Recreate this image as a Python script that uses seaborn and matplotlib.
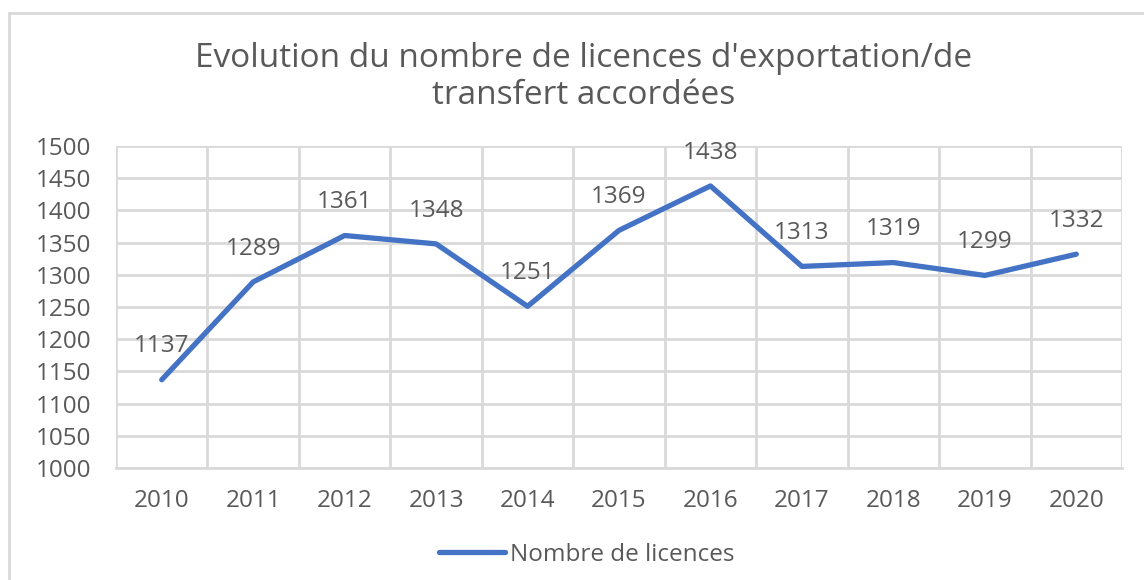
import numpy as np
import pandas as pd
import matplotlib
matplotlib.use('Agg')
import matplotlib.pyplot as plt
from matplotlib.lines import Line2D
import seaborn as sns

# Data
years = ['2010', '2011', '2012', '2013', '2014', '2015', '2016', '2017', '2018', '2019', '2020']
licences = [1137, 1289, 1361, 1348, 1251, 1369, 1438, 1313, 1319, 1299, 1332]
series_name = 'Nombre de licences'
title = "Evolution du nombre de licences d'exportation/de\ntransfert accordées"

df = pd.DataFrame({'annee': years, 'licences': licences})

sns.set_style('white')
plt.rcParams['font.family'] = ['Open Sans', 'DejaVu Sans']

text_col = '#595959'
grid_col = '#d9d9d9'
line_col = '#4472C4'

fig = plt.figure(figsize=(11.44, 5.80), dpi=100)
ax = fig.add_axes([116 / 1144, 1 - 468 / 580, (1122 - 116) / 1144, (468 - 146) / 580])

sns.lineplot(data=df, x='annee', y='licences', ax=ax, color=line_col,
             linewidth=3.8, label=series_name, sort=False)
for line in ax.get_lines():
    line.set_solid_capstyle('round')
    line.set_solid_joinstyle('round')

ax.set_xlim(-0.5, len(years) - 0.5)
ax.set_ylim(1000, 1500)
ax.set_yticks(np.arange(1000, 1501, 50))
ax.set_xticks(range(len(years)))
ax.set_xticklabels(years)
ax.set_xticks(np.arange(-0.5, len(years), 1), minor=True)

ax.grid(axis='y', which='major', color=grid_col, linewidth=2)
ax.grid(axis='x', which='minor', color=grid_col, linewidth=2)
ax.set_axisbelow(True)
for side in ['top', 'right', 'left']:
    ax.spines[side].set_visible(False)
ax.spines['bottom'].set_color(grid_col)
ax.spines['bottom'].set_linewidth(2)

ax.tick_params(axis='x', which='major', length=0, pad=15, labelsize=17.5, labelcolor=text_col)
ax.tick_params(axis='x', which='minor', length=7, width=2, color=grid_col)
ax.tick_params(axis='y', length=0, pad=18, labelsize=17.5, labelcolor=text_col)
ax.set_xlabel('')
ax.set_ylabel('')

# data labels above points
for i, v in enumerate(licences):
    ax.annotate(str(v), (i, v), xytext=(0, 24), textcoords='offset points',
                ha='center', va='center', fontsize=17.5, color=text_col)

fig.text(584 / 1144, 1 - 77 / 580, title, ha='center', va='center',
         fontsize=24, color=text_col, linespacing=1.15)

leg = ax.legend(loc='center', bbox_to_anchor=(0.468, -0.27), frameon=False,
                fontsize=17.5, handlelength=2.7, handletextpad=0.2, labelcolor=text_col)

# chart outer border (top and left visible)
fig.add_artist(Line2D([9 / 1144, 9 / 1144], [0, 1 - 13 / 580], transform=fig.transFigure,
                      color=grid_col, linewidth=2))
fig.add_artist(Line2D([9 / 1144, 1], [1 - 13 / 580, 1 - 13 / 580], transform=fig.transFigure,
                      color=grid_col, linewidth=2))

fig.savefig('out.png', dpi=100, facecolor='white')
